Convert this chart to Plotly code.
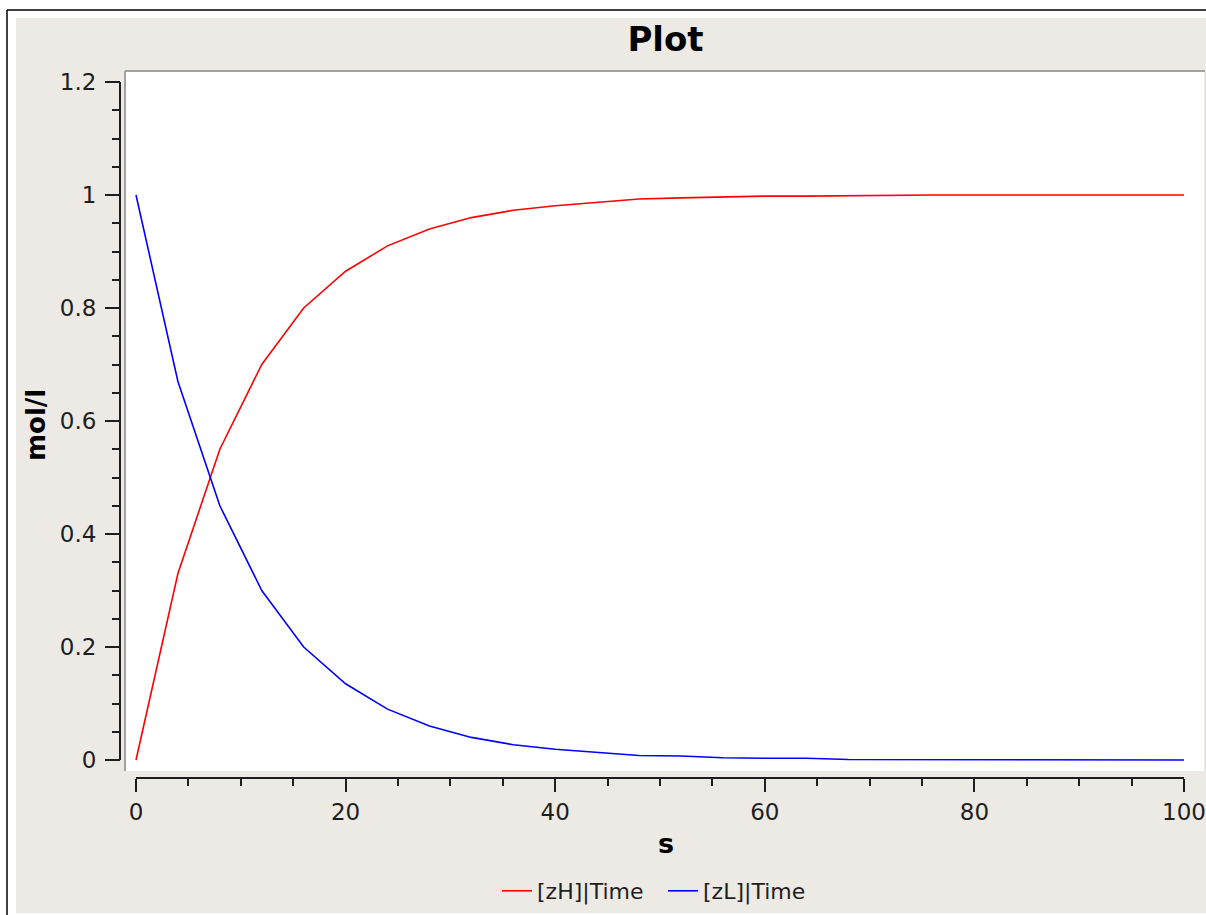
import plotly.graph_objects as go

# ---- data ----
time_s = [0, 4, 8, 12, 16, 20, 24, 28, 32, 36, 40, 44, 48, 52, 56, 60, 64, 68, 72, 76, 80, 84, 88, 92, 96, 100]
zH = [0.0, 0.33, 0.55, 0.70, 0.80, 0.865, 0.91, 0.94, 0.96, 0.973, 0.981, 0.987, 0.993, 0.995, 0.997, 0.998, 0.998, 0.999, 0.999, 1.0, 1.0, 1.0, 1.0, 1.0, 1.0, 1.0]
zL = [1.0, 0.67, 0.45, 0.30, 0.20, 0.135, 0.09, 0.06, 0.04, 0.027, 0.019, 0.014, 0.008, 0.007, 0.004, 0.003, 0.003, 0.001, 0.001, 0.0, 0.0, 0.0, 0.0, 0.0, 0.0, 0.0]
series_names = ["[zH]|Time", "[zL]|Time"]
series_colors = ["#ff0000", "#0000ff"]
x_ticks = [0, 20, 40, 60, 80, 100]
y_ticks = [0, 0.2, 0.4, 0.6, 0.8, 1, 1.2]

# ---- geometry (page pixels) ----
W, H = 1206, 915
L, R, T, B = 120, 1, 71, 137
PW, PH = W - L - R, H - T - B


def px(xp):
    return (xp - L) / PW


def py(yp):
    return (H - B - yp) / PH


FONT = "DejaVu Sans"
BEIGE = "#edeae5"
INK = "#1e1e1e"

fig = go.Figure()
for name, ys, col in zip(series_names, [zH, zL], series_colors):
    fig.add_trace(go.Scatter(x=time_s, y=ys, mode="lines", name=name,
                             line=dict(color=col, width=1.6)))

shapes = [
    # beige window background
    dict(type="rect", xref="paper", yref="paper", x0=px(16), x1=px(1207), y0=py(18), y1=py(913),
         fillcolor=BEIGE, line=dict(width=0), layer="below"),
    # white canvas
    dict(type="rect", xref="paper", yref="paper", x0=px(126), x1=px(1205), y0=py(71), y1=py(771),
         fillcolor="white", line=dict(width=0), layer="below"),
    # sunken frame
    dict(type="line", xref="paper", yref="paper", x0=px(125), x1=px(1205), y0=py(71), y1=py(71),
         line=dict(color="#a3a29c", width=2), layer="below"),
    dict(type="line", xref="paper", yref="paper", x0=px(125), x1=px(125), y0=py(71), y1=py(771),
         line=dict(color="#a3a29c", width=2), layer="below"),
    dict(type="line", xref="paper", yref="paper", x0=px(1205), x1=px(1205), y0=py(72), y1=py(771),
         line=dict(color="#d8d6d2", width=1), layer="below"),
    # outer black border (top and left)
    dict(type="line", xref="paper", yref="paper", x0=px(7), x1=px(1207), y0=py(10), y1=py(10),
         line=dict(color="black", width=1.5), layer="above"),
    dict(type="line", xref="paper", yref="paper", x0=px(7), x1=px(7), y0=py(10), y1=py(916),
         line=dict(color="black", width=1.5), layer="above"),
    # scale backbones (span the tick range only)
    dict(type="line", xref="x", yref="paper", x0=x_ticks[0], x1=x_ticks[-1], y0=0, y1=0,
         line=dict(color=INK, width=2), layer="above"),
    dict(type="line", xref="paper", yref="y", x0=0, x1=0, y0=y_ticks[0], y1=y_ticks[-1],
         line=dict(color=INK, width=2), layer="above"),
]

annotations = [
    dict(text="<b>s</b>", xref="paper", yref="paper", x=px(665.5), y=py(844),
         xanchor="center", yanchor="middle", showarrow=False,
         font=dict(family=FONT, size=27, color="black")),
    dict(text="<b>mol/l</b>", xref="paper", yref="paper", x=px(36), y=py(425),
         xanchor="center", yanchor="middle", showarrow=False, textangle=-90,
         font=dict(family=FONT, size=26, color="black")),
]

fig.update_layout(
    width=W, height=H,
    margin=dict(l=L, r=R, t=T, b=B, pad=0),
    paper_bgcolor="white",
    plot_bgcolor="rgba(0,0,0,0)",
    font=dict(family=FONT, color=INK),
    title=dict(text="<b>Plot</b>", x=px(665.5), xref="paper", xanchor="center",
               y=1 - 39 / H, yref="container", yanchor="middle",
               font=dict(family=FONT, size=34, color="black")),
    showlegend=True,
    legend=dict(orientation="h", x=px(497), xanchor="left", y=py(891), yanchor="middle",
                font=dict(family=FONT, size=22, color=INK), bgcolor="rgba(0,0,0,0)",
                itemwidth=30, tracegroupgap=0, entrywidth=121),
    xaxis=dict(range=[-10 / 10.48, 1069 / 10.48], domain=[px(126), 1],
               anchor="free", position=0, showline=False, showgrid=False, zeroline=False,
               tickmode="array", tickvals=x_ticks, ticks="outside", ticklen=13, tickwidth=2,
               tickcolor=INK, tickfont=dict(family=FONT, size=23, color=INK),
               ticklabelstandoff=0,
               minor=dict(dtick=5, tick0=0, ticks="outside", ticklen=7, tickwidth=2,
                          tickcolor=INK, showgrid=False)),
    yaxis=dict(range=[-11 / 565, 689 / 565], domain=[py(771), 1],
               anchor="free", position=0, showline=False, showgrid=False, zeroline=False,
               tickmode="array", tickvals=y_ticks, ticks="outside", ticklen=15, tickwidth=2,
               tickcolor=INK, tickfont=dict(family=FONT, size=23, color=INK),
               ticklabelstandoff=4,
               minor=dict(dtick=0.05, tick0=0, ticks="outside", ticklen=8, tickwidth=2,
                          tickcolor=INK, showgrid=False)),
    shapes=shapes,
    annotations=annotations,
)

fig.write_html("out.html", config={"displayModeBar": False},
               post_script="document.body.style.margin='0';document.body.style.overflow='hidden';")
